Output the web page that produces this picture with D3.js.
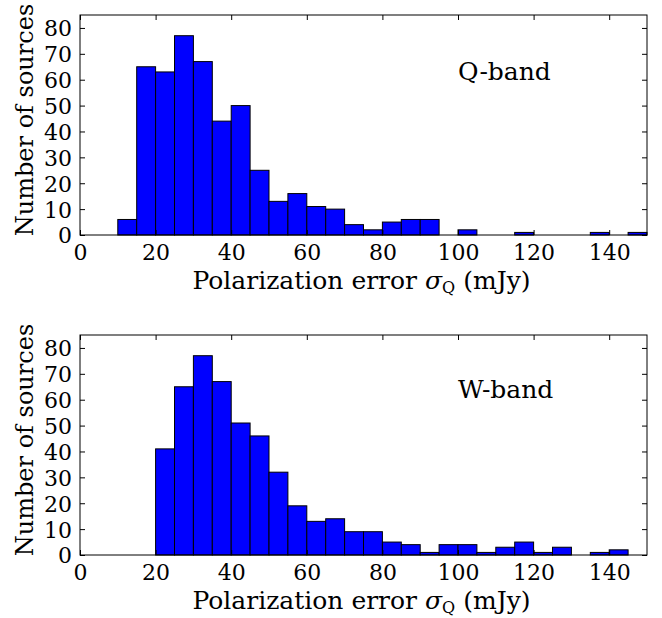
<!DOCTYPE html>
<html><head><meta charset="utf-8">
<script src="https://cdn.jsdelivr.net/npm/d3@7"></script>
<style>body{margin:0;background:#fff}svg{display:block}text{font-family:"DejaVu Serif",serif;fill:#000}</style>
</head><body><svg id="c" width="662" height="618"></svg>
<script>
const binEdges = d3.range(0, 155, 5); // bin edges 0..150
const qCounts = [0,0,6,65,63,77,67,44,50,25,13,16,11,10,4,2,5,6,6,0,2,0,0,1,0,0,0,1,0,1];
const wCounts = [0,0,0,0,41,65,77,67,51,46,32,19,13,14,9,9,5,4,1,4,4,1,3,5,1,3,0,1,2,0];
const xTicks = [0,20,40,60,80,100,120,140];
const yTicks = [0,10,20,30,40,50,60,70,80];
const panels = [
  {label:"Q-band", counts:qCounts, top:15, lx:458, ly:80},
  {label:"W-band", counts:wCounts, top:335, lx:458, ly:398}
];
const svg = d3.select("#c");
const L = 80, R = 647, H = 220;
panels.forEach(p => {
  const x = d3.scaleLinear().domain([0,150]).range([L,R]);
  const y = d3.scaleLinear().domain([0,85]).range([p.top+H, p.top]);
  const g = svg.append("g");
  const data = p.counts.map((c,i)=>({x0:binEdges[i], x1:binEdges[i+1], c})).filter(d=>d.c>0);
  g.selectAll("rect").data(data).enter().append("rect")
    .attr("x", d=>x(d.x0)).attr("width", d=>x(d.x1)-x(d.x0))
    .attr("y", d=>y(d.c)).attr("height", d=>y(0)-y(d.c))
    .attr("fill","#0000ff").attr("stroke","#000").attr("stroke-width",1);
  // frame
  g.append("rect").attr("x",L).attr("y",p.top).attr("width",R-L).attr("height",H)
    .attr("fill","none").attr("stroke","#000").attr("stroke-width",1);
  // axes with inward ticks
  const xb = g.append("g").attr("transform",`translate(0,${p.top+H})`)
    .call(d3.axisBottom(x).tickValues(xTicks).tickSize(-5).tickPadding(9));
  const xt = g.append("g").attr("transform",`translate(0,${p.top})`)
    .call(d3.axisTop(x).tickValues(xTicks).tickSize(-5).tickFormat(""));
  const yl = g.append("g").attr("transform",`translate(${L},0)`)
    .call(d3.axisLeft(y).tickValues(yTicks).tickSize(-5).tickPadding(8));
  const yr = g.append("g").attr("transform",`translate(${R},0)`)
    .call(d3.axisRight(y).tickValues(yTicks).tickSize(-5).tickFormat(""));
  [xb,xt,yl,yr].forEach(a=>{a.select(".domain").remove();a.selectAll("line").attr("stroke","#000");
    a.selectAll("text").style("font-family","DejaVu Serif").style("font-size","22px").attr("fill","#000");});
  xb.selectAll("text").attr("dy","0.71em");
  yl.selectAll("text").attr("dy","0.36em");
  // labels
  g.append("text").attr("x",p.lx).attr("y",p.ly).style("font-size","25px").text(p.label);
  const xl = g.append("text").attr("x",(L+R)/2 - 2).attr("y",p.top+H+54).attr("text-anchor","middle").style("font-size","25px");
  xl.append("tspan").text("Polarization error ");
  xl.append("tspan").style("font-style","italic").text("σ");
  xl.append("tspan").attr("dy",4).style("font-size","16px").text("Q");
  xl.append("tspan").attr("dy",-4).text(" (mJy)");
  g.append("text").attr("transform",`translate(33,${p.top+H/2-5}) rotate(-90)`)
    .attr("text-anchor","middle").style("font-size","24px").text("Number of sources");
});
</script></body></html>
